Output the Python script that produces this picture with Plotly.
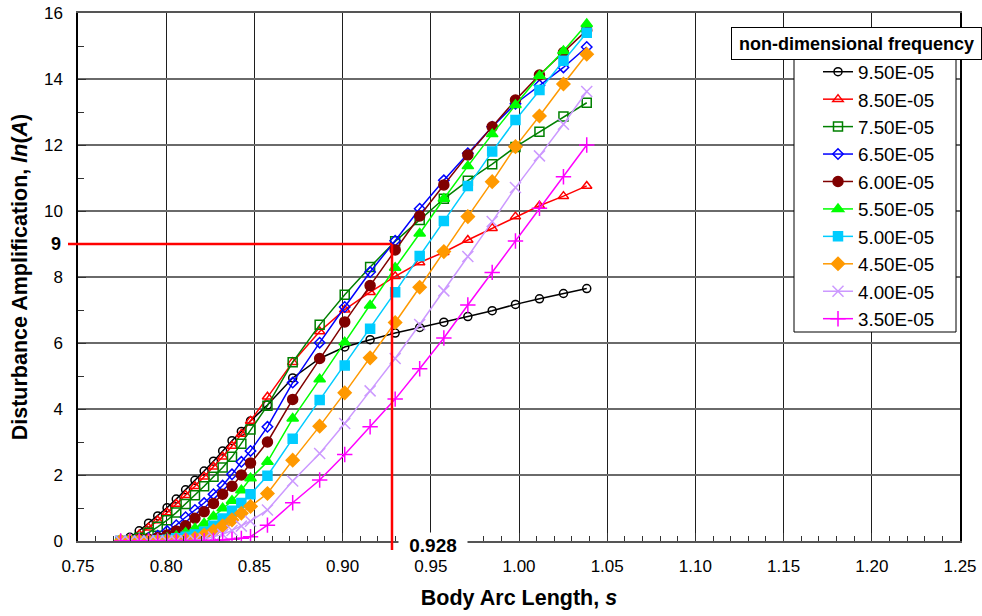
import plotly.graph_objects as go

# ---------------- data ----------------
s = [0.7742, 0.7794, 0.7847, 0.7900, 0.7952, 0.8005, 0.8057, 0.8110, 0.8163, 0.8215,
     0.8268, 0.8320, 0.8373, 0.8426, 0.8478, 0.8574, 0.8717, 0.8870, 0.9012, 0.9156,
     0.9298, 0.9437, 0.9574, 0.9710, 0.9848, 0.9980, 1.0116, 1.0252, 1.0384]

f950 = [0.0, 0.11, 0.31, 0.54, 0.76, 1.01, 1.27, 1.55, 1.84, 2.12, 2.42, 2.73, 3.04, 3.32, 3.64,
        4.12, 4.94, 5.53, 5.88, 6.10, 6.30, 6.47, 6.63, 6.80, 6.98, 7.17, 7.34, 7.50, 7.65]
f850 = [0.0, 0.05, 0.20, 0.40, 0.62, 0.86, 1.12, 1.39, 1.66, 1.95, 2.25, 2.55, 2.88, 3.24, 3.64,
        4.37, 5.42, 6.35, 7.01, 7.54, 8.02, 8.44, 8.75, 9.12, 9.48, 9.83, 10.16, 10.45, 10.76]
f750 = [0.0, 0.02, 0.10, 0.25, 0.43, 0.63, 0.86, 1.12, 1.39, 1.66, 1.95, 2.23, 2.55, 2.95, 3.38,
        4.10, 5.42, 6.55, 7.46, 8.30, 9.08, 9.73, 10.37, 10.92, 11.42, 11.94, 12.40, 12.86, 13.28]
f650 = [0.0, 0.01, 0.04, 0.08, 0.16, 0.30, 0.48, 0.72, 0.94, 1.15, 1.42, 1.68, 2.02, 2.40, 2.73,
        3.46, 4.80, 6.01, 7.09, 8.15, 9.10, 10.07, 10.93, 11.75, 12.55, 13.25, 13.81, 14.35, 14.97]
f600 = [0.0, 0.0, 0.02, 0.05, 0.10, 0.18, 0.30, 0.46, 0.69, 0.89, 1.14, 1.42, 1.66, 2.00, 2.36,
        3.00, 4.29, 5.53, 6.64, 7.74, 8.82, 9.85, 10.79, 11.70, 12.55, 13.36, 14.12, 14.80, 15.48]
f550 = [0.0, 0.0, 0.0, 0.02, 0.05, 0.09, 0.15, 0.25, 0.38, 0.53, 0.74, 0.99, 1.22, 1.54, 1.90,
        2.40, 3.71, 4.90, 6.02, 7.14, 8.28, 9.32, 10.37, 11.36, 12.33, 13.21, 14.10, 14.85, 15.67]
f500 = [0.0, 0.0, 0.0, 0.0, 0.02, 0.04, 0.08, 0.13, 0.20, 0.28, 0.46, 0.68, 0.92, 1.15, 1.42,
        1.98, 3.10, 4.27, 5.32, 6.43, 7.54, 8.64, 9.70, 10.76, 11.80, 12.76, 13.67, 14.55, 15.40]
f450 = [0.0, 0.0, 0.0, 0.0, 0.0, 0.01, 0.02, 0.04, 0.08, 0.18, 0.30, 0.46, 0.64, 0.84, 1.05,
        1.44, 2.45, 3.48, 4.49, 5.55, 6.62, 7.69, 8.77, 9.83, 10.89, 11.95, 12.88, 13.85, 14.75]
f400 = [0.0, 0.0, 0.0, 0.0, 0.0, 0.0, 0.0, 0.01, 0.02, 0.06, 0.12, 0.20, 0.32, 0.45, 0.60,
        0.94, 1.82, 2.65, 3.56, 4.55, 5.53, 6.56, 7.58, 8.62, 9.68, 10.71, 11.67, 12.63, 13.62]
f350 = [0.0, 0.0, 0.0, 0.0, 0.0, 0.0, 0.0, 0.0, 0.0, 0.01, 0.02, 0.03, 0.05, 0.08, 0.13,
        0.48, 1.16, 1.85, 2.62, 3.46, 4.30, 5.22, 6.15, 7.15, 8.14, 9.09, 10.08, 11.04, 12.00]

series_names = ["9.50E-05", "8.50E-05", "7.50E-05", "6.50E-05", "6.00E-05",
                "5.50E-05", "5.00E-05", "4.50E-05", "4.00E-05", "3.50E-05"]
series_values = [f950, f850, f750, f650, f600, f550, f500, f450, f400, f350]
series_colors = ["#000000", "#FF0000", "#008000", "#0000FF", "#800000",
                 "#00FF00", "#00CCFF", "#FF9900", "#CC99FF", "#FF00FF"]
series_symbols = ["circle-open", "triangle-up-open", "square-open", "diamond-open", "circle",
                  "triangle-up", "square", "diamond", "x-thin", "cross-thin"]
series_sizes = [8, 9, 9, 8, 10, 10, 9, 10, 11, 11]

legend_title = "non-dimensional frequency"
x_ticks = [0.75, 0.80, 0.85, 0.90, 0.95, 1.00, 1.05, 1.10, 1.15, 1.20, 1.25]
y_ticks = [0, 2, 4, 6, 8, 10, 12, 14, 16]
S_MARK = 0.928
A_MARK = 9

XMIN, XMAX = 0.75, 1.25
YMIN, YMAX = 0, 16

FONT = "Liberation Sans, Arial, sans-serif"

fig = go.Figure()
for name, vals, col, sym, sz in zip(series_names, series_values, series_colors,
                                    series_symbols, series_sizes):
    fig.add_trace(go.Scatter(
        x=s, y=vals, name=name, mode="lines+markers",
        line=dict(color=col, width=1.5),
        marker=dict(symbol=sym, size=sz, color=col,
                    line=dict(color=col, width=1.5)),
    ))

# plot area in pixels
L, R, T, B = 78, 22, 13, 75
W, H = 982, 616
PW, PH = W - L - R, H - T - B


def px2paperx(px):
    return (px - L) / PW


def px2papery(py):
    return (H - B - py) / PH


xm = (S_MARK - XMIN) / (XMAX - XMIN)
ym = (A_MARK - YMIN) / (YMAX - YMIN)

shapes = [
    # red marker lines
    dict(type="line", xref="paper", yref="paper", x0=px2paperx(68), x1=xm, y0=ym, y1=ym,
         line=dict(color="#FF0000", width=2.5), layer="above"),
    dict(type="line", xref="paper", yref="paper", x0=xm, x1=xm, y0=px2papery(550), y1=ym,
         line=dict(color="#FF0000", width=2.5), layer="above"),
    # legend box
    dict(type="rect", xref="paper", yref="paper",
         x0=px2paperx(794), x1=px2paperx(956), y0=px2papery(332), y1=px2papery(58),
         fillcolor="white", line=dict(color="black", width=1), layer="above"),
]

annotations = [
    dict(text="<b>%s</b>" % legend_title, xref="paper", yref="paper",
         x=px2paperx(731), y=px2papery(27), xanchor="left", yanchor="top",
         width=247, height=29, showarrow=False, bgcolor="white",
         bordercolor="black", borderwidth=1, font=dict(family=FONT, size=18, color="black")),
    dict(text="<b>%d</b>" % A_MARK, xref="paper", yref="y", x=px2paperx(63), y=A_MARK,
         xanchor="right", yanchor="middle", showarrow=False,
         font=dict(family=FONT, size=18, color="black")),
    dict(text="<b>%.3f</b>" % S_MARK, xref="x", yref="paper", x=S_MARK, y=0,
         xanchor="left", yanchor="middle", xshift=6, yshift=-4, width=64,
         borderpad=2, showarrow=False, bgcolor="white",
         font=dict(family=FONT, size=19, color="black")),
]

fig.update_layout(
    width=W, height=H,
    margin=dict(l=L, r=R, t=T, b=B, pad=0, autoexpand=False),
    paper_bgcolor="white", plot_bgcolor="white",
    font=dict(family=FONT, color="black", size=17),
    showlegend=True,
    legend=dict(x=px2paperx(818), y=px2papery(53), xanchor="left", yanchor="top",
                bgcolor="rgba(0,0,0,0)", borderwidth=0,
                font=dict(family=FONT, size=18.8, color="black")),
    shapes=shapes,
    annotations=annotations,
    xaxis=dict(
        range=[XMIN, XMAX], tickvals=x_ticks, ticktext=["%.2f" % v for v in x_ticks],
        automargin=False, ticklabelstandoff=9,
        ticks="inside", ticklen=8, tickcolor="#333", tickwidth=1,
        showgrid=True, gridcolor="#1e1e1e", gridwidth=1.2,
        showline=True, linecolor="#555", linewidth=2, mirror=True,
        zeroline=False,
        minor=dict(dtick=0.01, ticks="inside", ticklen=5, tickcolor="#333", showgrid=False),
        tickfont=dict(family=FONT, size=17, color="black"),
        title=dict(text="<b>Body Arc Length, <i>s</i></b>", standoff=15,
                   font=dict(family=FONT, size=21.5, color="black")),
    ),
    yaxis=dict(
        range=[YMIN, YMAX], tickvals=y_ticks,
        automargin=False, ticklabelstandoff=10,
        ticks="inside", ticklen=8, tickcolor="#333", tickwidth=1,
        showgrid=True, gridcolor="#6a6a6a", gridwidth=2,
        showline=True, linecolor="black", linewidth=1.5, mirror=True,
        zeroline=False,
        minor=dict(dtick=1, ticks="inside", ticklen=6, tickcolor="#333", showgrid=False),
        tickfont=dict(family=FONT, size=17, color="black"),
        title=dict(text="<b>Disturbance Amplification, <i>ln</i>(<i>A</i>)</b>", standoff=10,
                   font=dict(family=FONT, size=21.5, color="black")),
    ),
)

fig.write_html("out.html")
